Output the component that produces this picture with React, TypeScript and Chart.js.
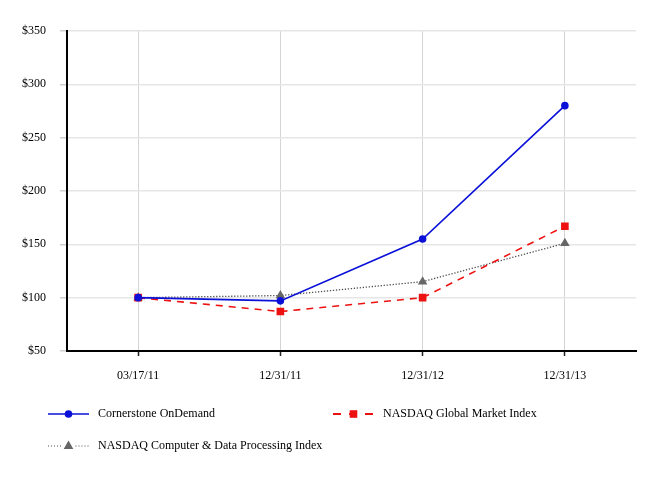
import React, { useEffect, useRef } from "react";
import { Chart, registerables } from "chart.js";

Chart.register(...registerables);

const categories = ["03/17/11", "12/31/11", "12/31/12", "12/31/13"];
const cornerstone = [100, 97, 155, 280];
const nasdaqGlobal = [100, 87, 100, 167];
const nasdaqComputer = [100, 102, 115, 151];
const yTicks = [50, 100, 150, 200, 250, 300, 350];

const BLUE = "#0a10d8";
const RED = "#ee1111";
const GREY = "#505050";
const MARKER_GREY = "#666666";
const FONT = "'Liberation Serif', 'Times New Roman', serif";

const legendItems = [
  { label: "Cornerstone OnDemand", color: BLUE, marker: BLUE, dash: [] as number[], width: 1.6, style: "circle", x: 48, y: 414, gap: 0 },
  { label: "NASDAQ Global Market Index", color: RED, marker: RED, dash: [8, 8], width: 2, style: "rect", x: 333, y: 414, gap: 0 },
  { label: "NASDAQ Computer & Data Processing Index", color: GREY, marker: MARKER_GREY, dash: [1, 2], width: 1.2, style: "triangle", x: 48, y: 446, gap: 7 },
];

function drawMarker(ctx: CanvasRenderingContext2D, style: string, x: number, y: number, color: string) {
  ctx.save();
  ctx.fillStyle = color;
  ctx.setLineDash([]);
  ctx.beginPath();
  if (style === "circle") {
    ctx.arc(x, y, 3.8, 0, Math.PI * 2);
  } else if (style === "rect") {
    ctx.rect(x - 3.8, y - 3.8, 7.6, 7.6);
  } else {
    ctx.moveTo(x, y - 5.5);
    ctx.lineTo(x + 4.8, y + 3);
    ctx.lineTo(x - 4.8, y + 3);
    ctx.closePath();
  }
  ctx.fill();
  ctx.restore();
}

const legendPlugin = {
  id: "customLegend",
  afterDraw(chart: any) {
    const ctx: CanvasRenderingContext2D = chart.ctx;
    ctx.save();
    for (const it of legendItems) {
      ctx.strokeStyle = it.color;
      ctx.lineWidth = it.width;
      ctx.setLineDash(it.dash);
      const mid = it.x + 20.5;
      ctx.beginPath();
      if (it.gap > 0) {
        ctx.moveTo(it.x, it.y);
        ctx.lineTo(mid - it.gap, it.y);
        ctx.moveTo(mid + it.gap, it.y);
        ctx.lineTo(it.x + 41, it.y);
      } else {
        ctx.moveTo(it.x, it.y);
        ctx.lineTo(it.x + 41, it.y);
      }
      ctx.stroke();
      drawMarker(ctx, it.style, mid, it.y, it.marker);
      ctx.setLineDash([]);
      ctx.fillStyle = "#000";
      ctx.font = `12px ${FONT}`;
      ctx.textBaseline = "middle";
      ctx.textAlign = "left";
      ctx.fillText(it.label, it.x + 50, it.y);
    }
    ctx.restore();
  },
};

export default function App() {
  const ref = useRef<HTMLCanvasElement | null>(null);
  useEffect(() => {
    document.body.style.margin = "0";
    if (!ref.current) return;
    Chart.defaults.font.family = FONT;
    Chart.defaults.font.size = 12;
    Chart.defaults.color = "#000";
    const chart = new Chart(ref.current, {
      type: "line",
      data: {
        labels: categories,
        datasets: [
          {
            label: "Cornerstone OnDemand",
            data: cornerstone,
            borderColor: BLUE,
            backgroundColor: BLUE,
            borderWidth: 1.6,
            pointStyle: "circle",
            pointRadius: 3.8,
            pointBorderWidth: 0,
            tension: 0,
          },
          {
            label: "NASDAQ Global Market Index",
            data: nasdaqGlobal,
            borderColor: RED,
            backgroundColor: RED,
            borderWidth: 1.6,
            borderDash: [7, 6],
            pointStyle: "rect",
            pointRadius: 5.4,
            pointBorderWidth: 0,
            tension: 0,
          },
          {
            label: "NASDAQ Computer & Data Processing Index",
            data: nasdaqComputer,
            borderColor: GREY,
            backgroundColor: MARKER_GREY,
            borderWidth: 1.3,
            borderDash: [1.3, 1.7],
            pointStyle: "triangle",
            pointRadius: 5.5,
            pointBorderWidth: 0,
            tension: 0,
          },
        ],
      },
      options: {
        responsive: false,
        animation: false,
        layout: { padding: { top: 31, right: 30, bottom: 0, left: 0 } },
        plugins: { legend: { display: false }, tooltip: { enabled: false } },
        scales: {
          x: {
            offset: true,
            grid: {
              offset: false,
              color: "#d4d4d4",
              lineWidth: 1,
              tickLength: 5,
              tickColor: "#222",
              tickWidth: 1.5,
            },
            border: { color: "#000", width: 2 },
            ticks: { padding: 13, font: { size: 12 }, maxRotation: 0 },
            afterFit(scale: any) {
              scale.height = 129;
            },
          },
          y: {
            min: 50,
            max: 350,
            afterBuildTicks(scale: any) {
              scale.ticks = yTicks.map((v) => ({ value: v }));
            },
            grid: {
              color: "#e6e6e6",
              lineWidth: 1.5,
              tickLength: 7,
              tickColor: "#cfcfcf",
            },
            border: { color: "#000", width: 2 },
            ticks: {
              padding: 14,
              font: { size: 12 },
              callback: (v: any) => "$" + v,
            },
            afterFit(scale: any) {
              scale.width = 67;
            },
          },
        },
      },
      plugins: [legendPlugin],
    });
    return () => chart.destroy();
  }, []);
  return (
    <div style={{ width: 666, height: 480 }}>
      <canvas ref={ref} width={666} height={480} />
    </div>
  );
}
